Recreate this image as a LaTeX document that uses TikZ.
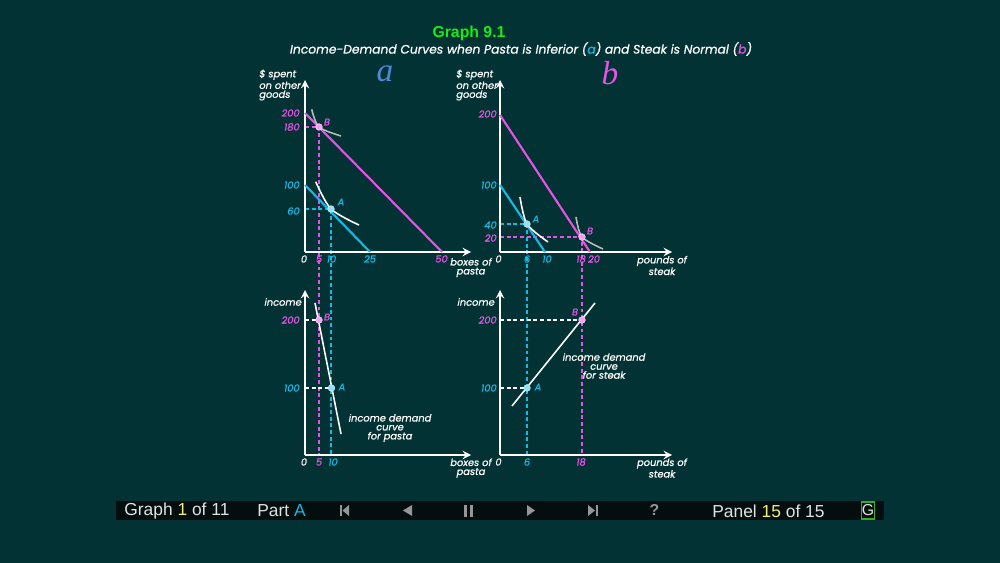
\documentclass[tikz,border=0pt]{standalone}
\usepackage{fontspec}
\setmainfont{Liberation Sans}
\newfontfamily\gothic{Poppins}
\newfontfamily\letterfont{Liberation Serif}
\usetikzlibrary{arrows,positioning}

\definecolor{bgteal}{RGB}{2,50,51}
\definecolor{barblack}{RGB}{4,14,14}
\definecolor{pinkc}{RGB}{228,85,228}
\definecolor{cyanc}{RGB}{20,185,230}
\definecolor{grayicon}{RGB}{150,150,150}
\definecolor{titlegreen}{RGB}{25,235,25}
\definecolor{barwhite}{RGB}{225,225,225}
\definecolor{baryellow}{RGB}{240,240,120}
\definecolor{lettera}{RGB}{80,135,215}
\definecolor{curvegray}{RGB}{185,185,185}
\definecolor{gboxgreen}{RGB}{60,170,40}

\tikzset{
  axis/.style={->, white, line width=1.1pt},
  pinkline/.style={color=pinkc, line width=1.2pt},
  cyanline/.style={color=cyanc, line width=1.2pt},
  pinkdash/.style={color=pinkc, line width=1.1pt, dash pattern=on 2.2pt off 1.6pt},
  cyandash/.style={color=cyanc, line width=1.1pt, dash pattern=on 2.2pt off 1.6pt},
  whitedash/.style={white, line width=1.1pt, dash pattern=on 2.2pt off 1.6pt},
  indiff/.style={white, line width=0.9pt},
  lab/.style={font=\gothic\itshape\fontsize{5.6}{5.1}\selectfont\addfontfeatures{FakeBold=0.7}, inner sep=0pt, text=white},
  dotA/.style={circle, fill=cyanc!45!white, draw=white!70!cyanc, line width=0.4pt, minimum size=0.13cm, inner sep=0pt},
  dotB/.style={circle, fill=pinkc!55!white, draw=white!70!pinkc, line width=0.4pt, minimum size=0.13cm, inner sep=0pt},
  bartext/.style={font=\fontsize{9.9}{10}\selectfont, text=barwhite, inner sep=0pt}
}

\begin{document}
\begin{tikzpicture}[x=0.02cm, y=-0.02cm, >=stealth]
\def \aleft {305}
\def \bleft {500}
\def \topy {252}
\def \boty {455}

\fill[bgteal] (0,0) rectangle (1000,563);
\useasboundingbox (0,0) rectangle (1000,563);

%Title
\node[font=\bfseries\fontsize{9}{9}\selectfont, text=titlegreen] (title) at (469,33) {Graph 9.1};
\node[font=\gothic\itshape\fontsize{7}{7}\selectfont\addfontfeatures{FakeBold=0.8}, text=white] (subtitle) at (521,49) {Income-Demand Curves when Pasta is Inferior ({\color{cyanc}a}) and Steak is Normal ({\color{pinkc}b})};

%Coordinates
\coordinate (aO) at (\aleft,\topy);
\coordinate (bO) at (\bleft,\topy);
\coordinate (laO) at (\aleft,\boty);
\coordinate (lbO) at (\bleft,\boty);
\coordinate (aB) at (319,127);
\coordinate (aA) at (331,209);
\coordinate (bA) at (527,224);
\coordinate (bB) at (582,237);
\coordinate (laB) at (319,320);
\coordinate (laA) at (331.5,388);
\coordinate (lbA) at (527,388);
\coordinate (lbB) at (582,320);

%Dashed guides
\draw[pinkdash] (aB -| aO) -- (aB) -- (aB |- laO);
\draw[cyandash] (aA -| aO) -- (aA) -- (aA |- laO);
\draw[cyandash] (bA -| bO) -- (bA) -- (bA |- lbO);
\draw[pinkdash] (bB -| bO) -- (bB) -- (bB |- lbO);
\draw[whitedash] (laB -| laO) -- (laB);
\draw[whitedash] (laA -| laO) -- (laA);
\draw[whitedash] (lbB -| lbO) -- (lbB);
\draw[whitedash] (lbA -| lbO) -- (lbA);

%Panel a top
\node[] (aletter) at (385,74) {\letterfont\itshape\fontsize{19}{19}\selectfont\color{lettera}a};
\draw[axis] (aO) -- (\aleft,80);
\draw[axis] (aO) -- (471,\topy);
\node[lab, anchor=west, align=left] (aylab) at (259,85) {\$ spent\\on other\\goods};
\draw[pinkline] (\aleft,113) -- (442,\topy);
\draw[cyanline] (\aleft,185) -- (370,\topy);
\draw[indiff, curvegray] plot[smooth] coordinates {(311.7,109.3) (aB) (341,136)};
\draw[indiff] plot[smooth] coordinates {(315.7,181.7) (aA) (359,225)};
\node[dotB] (dotaB) at (aB) {};
\node[dotA] (dotaA) at (aA) {};
\node[lab, text=pinkc] (labaB) at (327,122) {B};
\node[lab, text=cyanc] (labaA) at (341,202) {A};
\node[lab, text=pinkc, anchor=east] at (300,113) {200};
\node[lab, text=pinkc, anchor=east] at (300,127) {180};
\node[lab, text=cyanc, anchor=east] at (300,185) {100};
\node[lab, text=cyanc, anchor=east] at (300,211) {60};
\node[lab] at (304,259) {0};
\node[lab, text=pinkc] at (319,259) {5};
\node[lab, text=cyanc] at (331.5,259) {10};
\node[lab, text=cyanc] at (370,259) {25};
\node[lab, text=pinkc] at (441.5,259) {50};
\node[lab, align=center] (axlab) at (471,267.5) {boxes of\\pasta};

%Panel b top
\node[] (bletter) at (610,73) {\letterfont\itshape\fontsize{19}{19}\selectfont\color{pinkc}b};
\draw[axis] (bO) -- (\bleft,80);
\draw[axis] (bO) -- (672,\topy);
\node[lab, anchor=west, align=left] (bylab) at (456,85) {\$ spent\\on other\\goods};
\draw[pinkline] (\bleft,115) -- (590,\topy);
\draw[cyanline] (\bleft,185) -- (545,\topy);
\draw[indiff] plot[smooth] coordinates {(520,197) (bA) (548,242)};
\draw[indiff, curvegray] plot[smooth] coordinates {(576,217) (bB) (603,249)};
\node[dotA] (dotbA) at (bA) {};
\node[dotB] (dotbB) at (bB) {};
\node[lab, text=cyanc] (labbA) at (536,219) {A};
\node[lab, text=pinkc] (labbB) at (590,231) {B};
\node[lab, text=pinkc, anchor=east] at (497,114) {200};
\node[lab, text=cyanc, anchor=east] at (497,185) {100};
\node[lab, text=cyanc, anchor=east] at (497,225) {40};
\node[lab, text=pinkc, anchor=east] at (497,238) {20};
\node[lab] at (498.5,259) {0};
\node[lab, text=cyanc] at (527,259) {6};
\node[lab, text=cyanc] at (547,259) {10};
\node[lab, text=pinkc] at (581,259) {18};
\node[lab, text=pinkc] at (594,259) {20};
\node[lab, align=center] (bxlab) at (662,265.5) {pounds of\\steak};

%Panel a bottom
\draw[axis] (laO) -- (\aleft,290);
\draw[axis] (laO) -- (471,\boty);
\node[lab, anchor=east] (laylab) at (302,302) {income};
\draw[indiff] (315,303) -- (341,434);
\node[dotB] (dotlaB) at (laB) {};
\node[dotA] (dotlaA) at (laA) {};
\node[lab, text=pinkc] (lablaB) at (327,317) {B};
\node[lab, text=cyanc] (lablaA) at (342,387) {A};
\node[lab, text=pinkc, anchor=east] at (300,320) {200};
\node[lab, text=cyanc, anchor=east] at (300,388) {100};
\node[lab, align=center] (lacurve) at (390,428) {income demand\\curve\\for pasta};
\node[lab] at (304,462) {0};
\node[lab, text=pinkc] at (319,462) {5};
\node[lab, text=cyanc] at (333,462) {10};
\node[lab, align=center] (laxlab) at (471,468) {boxes of\\pasta};

%Panel b bottom
\draw[axis] (lbO) -- (\bleft,290);
\draw[axis] (lbO) -- (672,\boty);
\node[lab, anchor=east] (lbylab) at (495,302) {income};
\draw[indiff] (512,406) -- (595,303);
\node[dotA] (dotlbA) at (lbA) {};
\node[dotB] (dotlbB) at (lbB) {};
\node[lab, text=pinkc] (lablbB) at (575,312) {B};
\node[lab, text=cyanc] (lablbA) at (538,387) {A};
\node[lab, text=pinkc, anchor=east] at (497,320) {200};
\node[lab, text=cyanc, anchor=east] at (497,388) {100};
\node[lab, align=center] (lbcurve) at (604,366) {income demand\\curve\\for steak};
\node[lab] at (498.5,462) {0};
\node[lab, text=cyanc] at (527,462) {6};
\node[lab, text=pinkc] at (581,462) {18};
\node[lab, align=center] (lbxlab) at (662,468) {pounds of\\steak};

%Control bar
\fill[barblack] (116,501) rectangle (884,520);
\node[bartext, anchor=west] (graphno) at (124,511) {Graph {\color{baryellow}1} of 11};
\node[bartext, anchor=west] (partno) at (257,511) {Part {\color{cyanc}A}};
\fill[grayicon] (340,505) rectangle (342,516);
\fill[grayicon] (349,505) -- (342.5,510.5) -- (349,516) -- cycle;
\fill[grayicon] (412,505) -- (403,510.5) -- (412,516) -- cycle;
\fill[grayicon] (464,504.5) rectangle (467,517);
\fill[grayicon] (470,504.5) rectangle (473,517);
\fill[grayicon] (527,505) -- (535,510.5) -- (527,516) -- cycle;
\fill[grayicon] (588,505) -- (595,510.5) -- (588,516) -- cycle;
\fill[grayicon] (596,505) rectangle (598,516);
\node[font=\bfseries\fontsize{9}{9}\selectfont, text=grayicon, inner sep=0pt] (help) at (654.5,510) {?};
\node[bartext, anchor=west] (panelno) at (712,511) {Panel {\color{baryellow}15} of 15};
\node[draw=gboxgreen, line width=0.6pt, text=barwhite, minimum width=0.24cm, minimum height=0.34cm, inner sep=0pt, font=\fontsize{9}{9}\selectfont] (gbox) at (868,510.5) {G};
\end{tikzpicture}
\end{document}
